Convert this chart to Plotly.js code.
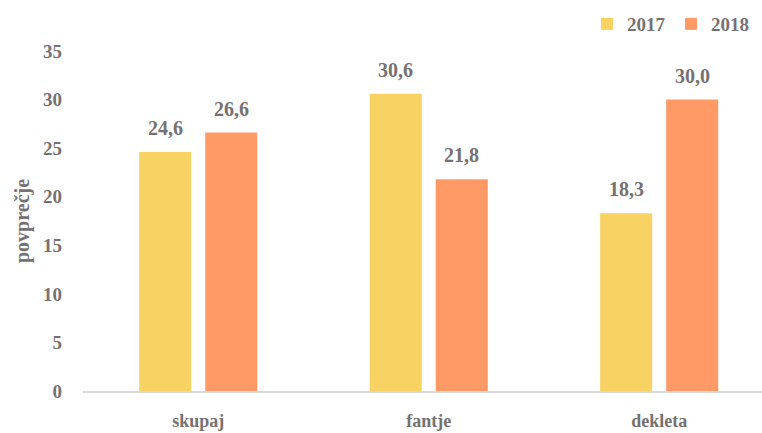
<!DOCTYPE html>
<html><head><meta charset="utf-8">
<script src="https://cdn.plot.ly/plotly-3.0.1.min.js"></script>
<style>html,body{margin:0;padding:0;background:#fff}#chart{width:762px;height:433px}</style>
</head><body><div id="chart"></div>
<script>
const categories = ['skupaj', 'fantje', 'dekleta'];
const seriesNames = ['2017', '2018'];
const values2017 = [24.6, 30.6, 18.3];
const values2018 = [26.6, 21.8, 30.0];
const yTicks = [0, 5, 10, 15, 20, 25, 30, 35];

const colors = ['#F9D264', '#FF9966'];
const fontFam = 'Liberation Serif, DejaVu Serif, serif';
const grey = '#767171';

const traces = [values2017, values2018].map((v, k) => ({
  type: 'bar', name: seriesNames[k], x: categories, y: v,
  marker: {color: colors[k]}, hoverinfo: 'skip'
}));

const offset = 0.1432;
const annotations = [];
[values2017, values2018].forEach((v, k) => {
  v.forEach((val, i) => {
    annotations.push({
      xref: 'x', yref: 'y', x: i + (k === 0 ? -offset : offset), y: val,
      text: val.toFixed(1).replace('.', ','), showarrow: false,
      yanchor: 'middle', yshift: 24,
      font: {family: fontFam, size: 20, color: grey, weight: 'bold'}
    });
  });
});

annotations.push({
  xref: 'paper', yref: 'paper', x: -83 / 679 + 22 / 679, y: 0.5,
  xanchor: 'center', yanchor: 'middle', textangle: -90, showarrow: false,
  text: 'povprečje', font: {family: fontFam, size: 20, color: grey, weight: 'bold'}
});

const layout = {
  width: 762, height: 433,
  margin: {l: 83, r: 0, t: 51, b: 42, autoexpand: false},
  paper_bgcolor: '#fff', plot_bgcolor: '#fff',
  font: {family: fontFam, size: 18, color: grey, weight: 'bold'},
  barmode: 'group', bargap: 0.427, bargroupgap: 0.212,
  showlegend: true,
  legend: {orientation: 'h', xref: 'container', yref: 'container',
           x: 587 / 762, xanchor: 'left', y: 1 - 24 / 433, yanchor: 'middle',
           font: {family: fontFam, size: 19, color: grey, weight: 'bold'},
           itemwidth: 30, entrywidth: 39, entrywidthmode: 'pixels',
           traceorder: 'normal'},
  xaxis: {range: [-0.5, 2.446], showline: true, linecolor: '#D9D9D9', linewidth: 1.5,
          ticks: '', showgrid: false, zeroline: false, ticklabelstandoff: 13,
          automargin: false,
          tickfont: {family: fontFam, size: 18, color: grey, weight: 'bold'}},
  yaxis: {range: [0, 35], tickvals: yTicks, ticktext: yTicks.map(String),
          showgrid: false, zeroline: false, showline: false, ticks: '',
          ticklabelstandoff: 20, automargin: false,
          tickfont: {family: fontFam, size: 19, color: grey, weight: 'bold'}},
  annotations: annotations
};

Plotly.newPlot('chart', traces, layout, {displayModeBar: false, staticPlot: true});
</script>
</body></html>
